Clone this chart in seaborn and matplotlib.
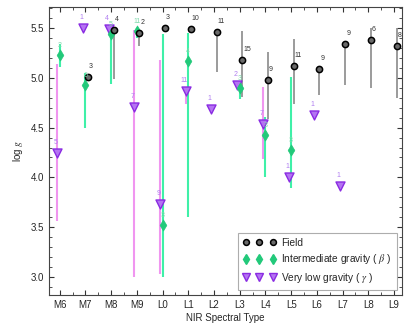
import matplotlib
matplotlib.use("Agg")
import matplotlib.pyplot as plt
from matplotlib.ticker import MultipleLocator
from matplotlib.lines import Line2D
import seaborn as sns
import pandas as pd
import numpy as np

types = ["M6", "M7", "M8", "M9", "L0", "L1", "L2", "L3", "L4", "L5", "L6", "L7", "L8", "L9"]

# Field (index into types, log g, lower, upper, N)
field_idx = [1, 2, 3, 4, 5, 6, 7, 8, 9, 10, 11, 12, 13]
field_val = [5.01, 5.48, 5.45, 5.50, 5.49, 5.46, 5.18, 4.98, 5.12, 5.09, 5.34, 5.38, 5.32]
field_lo = [5.01, 4.99, 5.32, 5.50, 5.49, 5.06, 4.81, 4.59, 4.74, 4.83, 4.93, 4.90, 4.80]
field_hi = [5.01, 5.50, 5.45, 5.50, 5.49, 5.46, 5.47, 5.26, 5.39, 5.09, 5.34, 5.50, 5.50]
field_n = [3, 4, 2, 3, 10, 11, 15, 9, 11, 9, 9, 6, 8]

# Intermediate gravity (beta)
beta_idx = [0, 1, 2, 3, 4, 5, 7, 8, 9]
beta_val = [5.23, 4.93, 5.44, 5.47, 3.52, 5.17, 4.90, 4.43, 4.28]
beta_lo = [5.11, 4.50, 4.94, 5.40, 3.00, 3.60, 4.79, 4.00, 3.89]
beta_hi = [5.34, 5.05, 5.50, 5.50, 5.44, 5.45, 4.97, 4.61, 5.01]
beta_n = [2, 6, 5, 11, 3, 4, 3, 3, 3]

# Very low gravity (gamma)
gamma_idx = [0, 1, 2, 3, 4, 5, 6, 7, 8, 9, 10, 11]
gamma_val = [4.25, 5.50, 5.49, 4.71, 3.73, 4.87, 4.69, 4.93, 4.54, 4.00, 4.63, 3.91]
gamma_lo = [3.56, 5.50, 5.49, 3.00, 3.03, 4.74, 4.69, 4.93, 4.18, 4.00, 4.63, 3.91]
gamma_hi = [5.14, 5.50, 5.49, 5.48, 5.18, 4.90, 4.69, 4.93, 4.91, 4.00, 4.63, 3.91]
gamma_n = [5, 1, 4, 7, 9, 11, 1, 2, 7, 1, 1, 1]

sns.set_style("ticks")
plt.rcParams['font.family'] = ['Liberation Sans', 'DejaVu Sans']
plt.rcParams['mathtext.fontset'] = 'stix'

fig = plt.figure(figsize=(4.11, 3.29), dpi=100)
ax = fig.add_axes([0.119, 0.103, 0.859, 0.876])

off = {"field": 0.1, "beta": 0.0, "gamma": -0.1}

df_f = pd.DataFrame({"x": np.array(field_idx) + off["field"], "y": field_val,
                     "lo": field_lo, "hi": field_hi, "n": field_n})
df_b = pd.DataFrame({"x": np.array(beta_idx) + off["beta"], "y": beta_val,
                     "lo": beta_lo, "hi": beta_hi, "n": beta_n})
df_g = pd.DataFrame({"x": np.array(gamma_idx) + off["gamma"], "y": gamma_val,
                     "lo": gamma_lo, "hi": gamma_hi, "n": gamma_n})

c_field_err = "#808080"
c_beta_err = "#3ff0a8"
c_gamma_err = "#f096f0"
c_beta = "#22c97a"
c_gamma_face = "#b474f2"
c_gamma_edge = "#8a2be2"

def err(df, color, lw, z):
    yerr = np.vstack([df["y"] - df["lo"], df["hi"] - df["y"]])
    ax.errorbar(df["x"], df["y"], yerr=yerr, fmt="none", ecolor=color,
                elinewidth=lw, capsize=0, zorder=z)

err(df_g, c_gamma_err, 1.5, 1)
err(df_b, c_beta_err, 1.5, 2)
err(df_f, c_field_err, 1.1, 3)

sns.scatterplot(data=df_g, x="x", y="y", marker="v", s=42, color=c_gamma_face,
                edgecolor=c_gamma_edge, linewidth=1.0, ax=ax, zorder=5, legend=False)
sns.scatterplot(data=df_b, x="x", y="y", marker="d", s=32, color=c_beta,
                edgecolor=c_beta, linewidth=0.5, ax=ax, zorder=6, legend=False)
sns.scatterplot(data=df_f, x="x", y="y", marker="o", s=20, color="#6a6a6a",
                edgecolor="black", linewidth=1.1, ax=ax, zorder=7, legend=False)

fs = 5
for x, y, n in zip(df_f["x"], df_f["y"], df_f["n"]):
    ax.text(x + 0.04, y + 0.07, str(n), fontsize=fs, color="#333333", ha="left", va="bottom", zorder=8)
for x, y, n in zip(df_b["x"], df_b["y"], df_b["n"]):
    ax.text(x, y + 0.06, str(n), fontsize=fs, color="#7fd9ab", ha="center", va="bottom", zorder=8)
for x, y, n in zip(df_g["x"], df_g["y"], df_g["n"]):
    ax.text(x - 0.06, y + 0.07, str(n), fontsize=fs, color="#b07ef0", ha="center", va="bottom", zorder=8)

ax.set_xlim(-0.42, 13.31)
ax.set_ylim(2.82, 5.71)
ax.set_xticks(range(len(types)))
ax.set_xticklabels(types)
ax.xaxis.set_minor_locator(MultipleLocator(0.5))
ax.yaxis.set_major_locator(MultipleLocator(0.5))
ax.yaxis.set_minor_locator(MultipleLocator(0.1))
ax.tick_params(which="both", direction="in", top=True, right=True, labelsize=7, color="#333333")
ax.tick_params(which="major", length=3.5, width=0.8)
ax.tick_params(which="minor", length=2, width=0.6)
for s in ax.spines.values():
    s.set_color("#444444")
    s.set_linewidth(0.8)

ax.set_xlabel("NIR Spectral Type", fontsize=7, labelpad=2)
ax.set_ylabel(r"log $g$", fontsize=7, labelpad=4)

handles = [
    Line2D([], [], ls="none", marker="o", markersize=4.2, markerfacecolor="#6a6a6a",
           markeredgecolor="black", markeredgewidth=1.1),
    Line2D([], [], ls="none", marker="d", markersize=5.5, markerfacecolor=c_beta,
           markeredgecolor=c_beta),
    Line2D([], [], ls="none", marker="v", markersize=6, markerfacecolor=c_gamma_face,
           markeredgecolor=c_gamma_edge),
]
labels = ["Field", r"Intermediate gravity ( $\beta$ )", r"Very low gravity ( $\gamma$ )"]
leg = ax.legend(handles, labels, loc="lower right", numpoints=3, fontsize=7.3,
                frameon=True, fancybox=False, edgecolor="#999999",
                borderaxespad=0.5, handletextpad=0.5, labelspacing=0.45,
                handlelength=3.3, borderpad=0.5)
leg.get_frame().set_linewidth(0.8)

fig.savefig("out.png", dpi=100)
